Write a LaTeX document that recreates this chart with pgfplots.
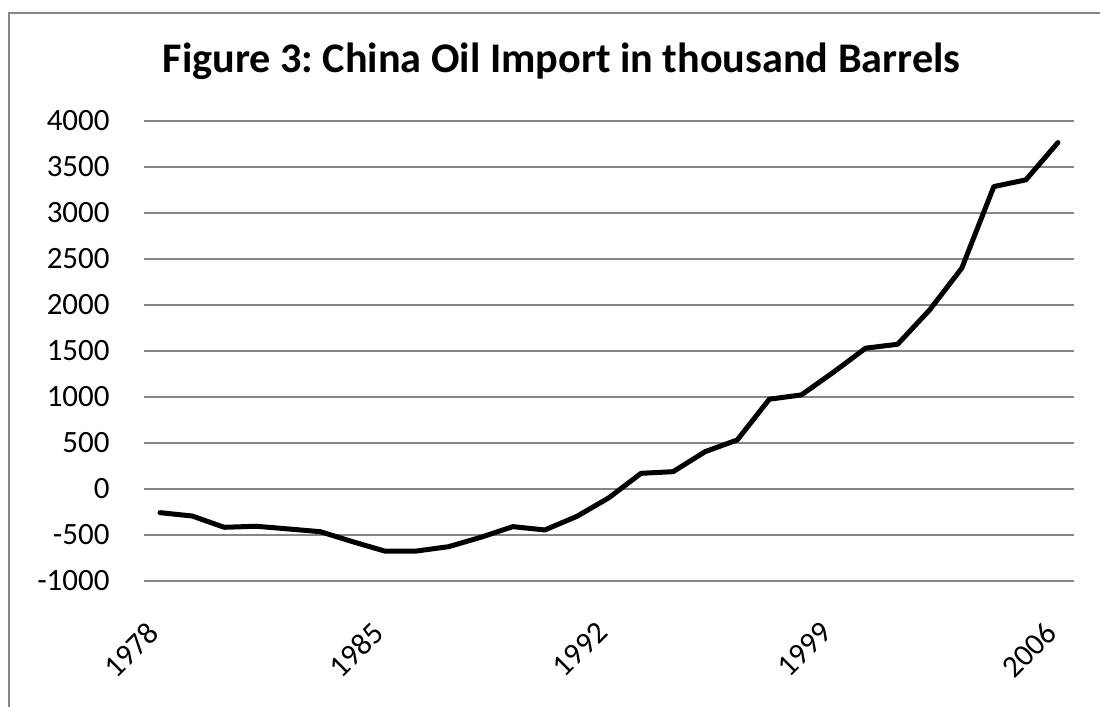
\documentclass[border=0pt]{standalone}
\usepackage{fontspec}
\setmainfont{Carlito}
\usepackage{pgfplots}
\pgfplotsset{compat=1.18}
\definecolor{gridgray}{RGB}{134,134,134}
\definecolor{framegray}{RGB}{134,134,134}
\frenchspacing
\begin{document}
\begin{tikzpicture}
\useasboundingbox (0,0) rectangle (550pt,-353.5pt);
\draw[framegray, line width=1pt] (4.5pt,-360pt) -- (4.5pt,-6.5pt) -- (560pt,-6.5pt);
\node[anchor=base, inner sep=0pt, font=\fontsize{21.1}{25}\selectfont\bfseries] at (280.75pt,-36.15pt) {Figure 3: China Oil Import in thousand Barrels};
\begin{axis}[
  at={(72pt,-290.35pt)}, anchor=south west,
  width=465pt, height=229.85pt, scale only axis,
  xmin=1977.5, xmax=2006.5,
  ymin=-1000, ymax=4000,
  ytick={-1000,-500,...,4000},
  xtick={1978,1985,1992,1999,2006},
  axis line style={draw=none},
  ymajorgrids,
  grid style={gridgray, line width=1pt},
  major tick length=0pt,
  tick style={draw=none},
  /pgf/number format/1000 sep={},
  /pgf/number format/assume math mode=true,
  ticklabel style={font=\fontsize{15.5}{18}\selectfont},
  yticklabel style={anchor=east, inner sep=0pt, xshift=-17pt},
  xticklabel style={xshift=-7pt, yshift=-19.5pt, rotate=45, anchor=north east, inner sep=0pt},
  clip=false,
]
\addplot[black, line width=2.5pt, line join=round, line cap=round] coordinates {
(1978,-260) (1979,-296) (1980,-419) (1981,-408) (1982,-437) (1983,-467)
(1984,-575) (1985,-677) (1986,-677) (1987,-630) (1988,-528) (1989,-412)
(1990,-448) (1991,-300) (1992,-97) (1993,168) (1994,186) (1995,404)
(1996,531) (1997,974) (1998,1021) (1999,1268) (2000,1529) (2001,1572)
(2002,1946) (2003,2399) (2004,3287) (2005,3360) (2006,3766)
};
\end{axis}
\end{tikzpicture}
\end{document}
